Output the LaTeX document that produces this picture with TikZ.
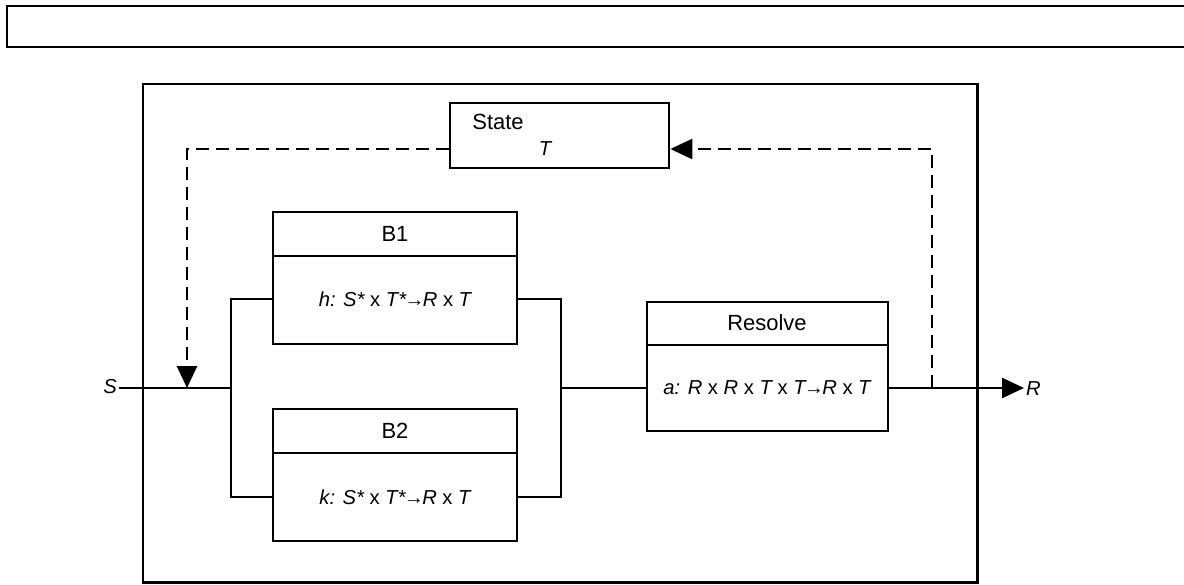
\documentclass[tikz,border=0pt]{standalone}
\usepackage{fontspec}
\setmainfont{Liberation Sans}
\usepackage{tikz}
\usetikzlibrary{arrows.meta}
\newcommand{\sst}{*}
\newcommand{\ito}{{\kern-1pt→\kern-1pt}}
\tikzset{
	blk/.style={draw, line width=1.6pt, rectangle, inner sep=0pt},
	hdr/.style={font=\fontsize{12.5}{14}\selectfont, inner sep=1pt},
	fml/.style={font=\fontsize{11.5}{13}\selectfont\itshape, inner sep=1pt},
	wire/.style={line width=1.6pt},
	fb/.style={line width=1.6pt, dash pattern=on 0.26cm off 0.14cm},
	tip/.style={-{Triangle[length=0.44cm, width=0.4cm]}}
}

\begin{document}
\begin{tikzpicture}[x=0.02cm, y=-0.02cm]
		\useasboundingbox (0,0) rectangle (1184,585);

		\draw[line width=0.8pt] (1190,6) -- (7,6) -- (7,47) -- (1190,47);
		\draw[line width=1.7pt] (143,84) rectangle (977,582);

		\node[blk, minimum width=4.38cm, minimum height=1.3cm] (st) at (559.5,135.5) {};
		\node[hdr] (sth) at (498,122) {State};
		\node[fml] (stt) at (545,149) {T};

		\node[blk, minimum width=4.88cm, minimum height=2.64cm] (b1) at (395,278) {};
		\draw[wire] (b1.west |- 0,256) -- (b1.east |- 0,256);
		\node[hdr] (b1h) at (395,234) {B1};
		\node[fml] (b1f) at (395,299) {h: S\sst\ \upshape x \itshape T\sst\ito R \upshape x \itshape T};

		\node[blk, minimum width=4.88cm, minimum height=2.64cm] (b2) at (395,475) {};
		\draw[wire] (b2.west |- 0,453) -- (b2.east |- 0,453);
		\node[hdr] (b2h) at (395,431) {B2};
		\node[fml] (b2f) at (395,497) {k: S\sst\ \upshape x \itshape T\sst\ito R \upshape x \itshape T};

		\node[blk, minimum width=4.82cm, minimum height=2.58cm] (res) at (767.5,366.5) {};
		\draw[wire] (res.west |- 0,345) -- (res.east |- 0,345);
		\node[hdr] (resh) at (767,323) {Resolve};
		\node[fml] (resf) at (767,388) {a: R \upshape x \itshape R \upshape x \itshape T \upshape x \itshape T\ito R \upshape x \itshape T};

		\node[fml] (s) at (110,387) {S};
		\node[fml, anchor=west] (r) at (1024,389) {R};

		\coordinate (jin) at (187,388);
		\coordinate (jl) at (231,388);
		\coordinate (jr) at (561,388);
		\coordinate (jo) at (932,388);

		\draw[wire] (s.east |- jl) -- (jl);
		\draw[wire] (b1f -| b1.west) -- (jl |- b1f) -- (jl |- b2f) -- (b2f -| b2.west);
		\draw[wire] (b1f -| b1.east) -- (jr |- b1f) -- (jr |- b2f) -- (b2f -| b2.east);
		\draw[wire] (jr) -- (res.west |- jr);
		\draw[wire, tip] (res.east |- jo) -- (r.west |- jo);

		\draw[fb, tip] (st.west |- 0,149) -| (jin);
		\draw[fb, tip] (jo) |- (st.east |- 0,149);

	\end{tikzpicture}
\end{document}
